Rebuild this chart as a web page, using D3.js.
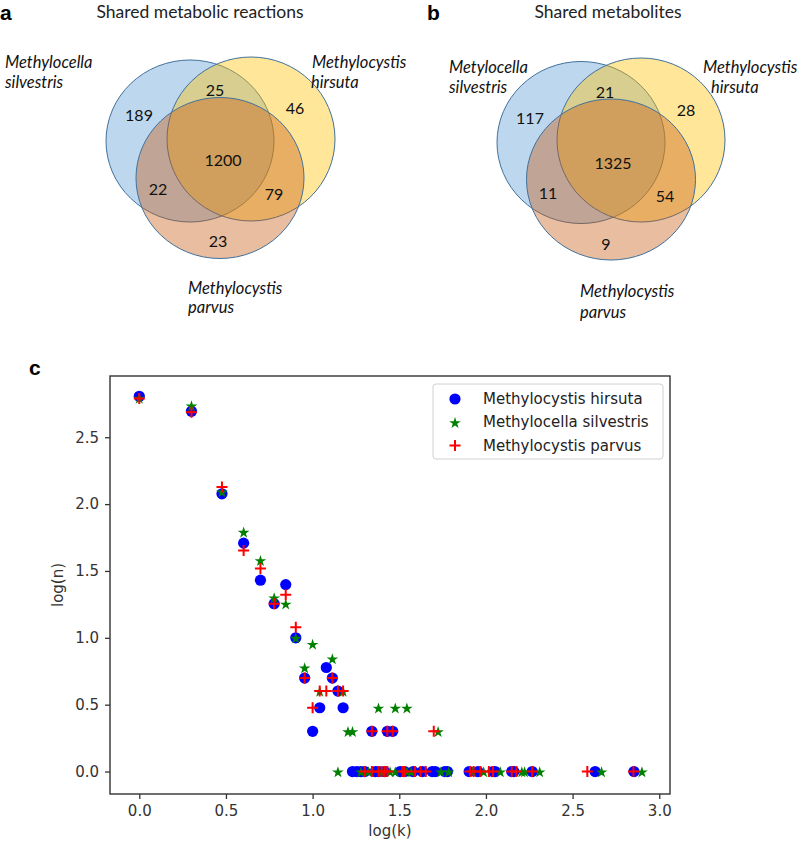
<!DOCTYPE html>
<html><head><meta charset="utf-8">
<script src="https://cdn.jsdelivr.net/npm/d3@7"></script>
<style>body{margin:0;background:#fff}svg{display:block}</style>
</head><body>
<svg id="c" width="797" height="842"></svg>
<script>
// ---------- DATA ----------
const vennSpecies = ["Methylocella silvestris","Methylocystis hirsuta","Methylocystis parvus"];
const vennATitle = "Shared metabolic reactions";
const vennBTitle = "Shared metabolites";
// region order: S only, H only, P only, S∩H, S∩P, H∩P, all
const vennACounts = [189, 46, 23, 25, 22, 79, 1200];
const vennBCounts = [117, 28, 9, 21, 11, 54, 1325];

const seriesNames = ["Methylocystis hirsuta","Methylocella silvestris","Methylocystis parvus"];
const hirsuta = [[0,2.806],[0.301,2.694],[0.477,2.077],[0.602,1.708],[0.699,1.431],[0.778,1.255],[0.845,1.398],[0.903,1.0],[0.954,0.699],[1.0,0.301],[1.041,0.477],[1.079,0.778],[1.114,0.699],[1.146,0.602],[1.176,0.477],[1.342,0.301],[1.431,0.301],[1.462,0.301],
 [1.230,0],[1.255,0],[1.279,0],[1.301,0],[1.362,0],[1.380,0],[1.415,0],[1.505,0],[1.531,0],[1.580,0],[1.633,0],[1.690,0],[1.708,0],[1.763,0],[1.778,0],[1.903,0],[1.954,0],[2.041,0],[2.053,0],[2.149,0],[2.161,0],[2.267,0],[2.630,0],[2.854,0]];
const silvestris = [[0,2.794],[0.301,2.736],[0.477,2.094],[0.602,1.792],[0.699,1.58],[0.778,1.301],[0.845,1.255],[0.903,1.0],[0.954,0.778],[1.0,0.954],[1.041,0.602],[1.114,0.845],[1.176,0.602],[1.204,0.301],[1.230,0.301],[1.380,0.477],[1.477,0.477],[1.544,0.477],[1.724,0.301],
 [1.146,0],[1.279,0],[1.322,0],[1.398,0],[1.447,0],[1.477,0],[1.544,0],[1.568,0],[1.740,0],[1.785,0],[1.924,0],[1.987,0],[2.083,0],[2.207,0],[2.223,0],[2.310,0],[2.667,0],[2.900,0]];
const parvus = [[0,2.79],[0.301,2.686],[0.477,2.127],[0.602,1.653],[0.699,1.519],[0.778,1.255],[0.845,1.322],[0.903,1.079],[0.954,0.699],[1.0,0.477],[1.041,0.602],[1.079,0.602],[1.114,0.699],[1.146,0.602],[1.176,0.602],[1.342,0.301],[1.431,0.301],[1.462,0.301],[1.699,0.301],
 [1.301,0],[1.342,0],[1.380,0],[1.398,0],[1.415,0],[1.431,0],[1.519,0],[1.531,0],[1.591,0],[1.623,0],[1.653,0],[1.908,0],[1.929,0],[1.968,0],[2.017,0],[2.041,0],[2.149,0],[2.176,0],[2.267,0],[2.585,0],[2.851,0]];
const xTicks = [0,0.5,1.0,1.5,2.0,2.5,3.0];
const yTicks = [0,0.5,1.0,1.5,2.0,2.5];

// ---------- DRAW ----------
const svg = d3.select("#c");
const venFont = "Lato, 'Open Sans', sans-serif";

function panelLetter(x, y, t){
  svg.append("text").attr("x",x).attr("y",y).text(t)
    .attr("font-family","Liberation Sans, Arial, sans-serif").attr("font-weight","bold").attr("font-size",21).attr("fill","#000");
}

function venn(cfg){
  const g = svg.append("g");
  const fills = ["#5B9BD5","#FFC000","#C55A11"];
  cfg.circles.forEach((c,i)=>{
    g.append("ellipse").attr("cx",c[0]).attr("cy",c[1]).attr("rx",c[2]).attr("ry",c[3])
      .attr("fill",fills[i]).attr("fill-opacity",0.4)
      .attr("stroke","#41719C").attr("stroke-width",1);
  });
  cfg.counts.forEach((v,i)=>{
    g.append("text").attr("x",cfg.numPos[i][0]).attr("y",cfg.numPos[i][1])
      .attr("text-anchor","middle").attr("dominant-baseline","central")
      .attr("font-family",venFont).attr("font-size",16).attr("fill","#111").text(v);
  });
  g.append("text").attr("x",cfg.titlePos[0]).attr("y",cfg.titlePos[1]).attr("text-anchor","middle")
    .attr("font-family",venFont).attr("font-size",17.5).attr("fill","#222").text(cfg.title);
  cfg.labels.forEach(l=>{
    const t = g.append("text").attr("font-family",venFont).attr("font-style","italic")
      .attr("font-size",16.5).attr("fill","#111");
    l.lines.forEach((ln,j)=>{
      t.append("tspan").attr("x",l.x[j]).attr("y",l.y[j]).text(ln);
    });
  });
}

const spA = vennSpecies.map(s=>s.split(" "));
const spB = [["Metylocella","silvestris"], spA[1], spA[2]];

venn({
  title: vennATitle, titlePos:[200,18], counts: vennACounts,
  circles: [[190,141,84,81],[251,139,84,82],[220,178,84,80.5]],
  numPos: [[139,114],[295,107],[218,240],[215,89],[158,188],[274,193],[223,159]],
  labels: [
    {lines: spA[0], x:[5,5], y:[68,88]},
    {lines: spA[1], x:[312,311], y:[68,88]},
    {lines: spA[2], x:[188,188], y:[294,313]}
  ]
});
venn({
  title: vennBTitle, titlePos:[608,18], counts: vennBCounts,
  circles: [[581,142.5,84,81],[641,140,84,82],[611,179.5,84.5,80.5]],
  numPos: [[530,117],[686,109],[606,243],[605,91],[548,192],[665,195],[613,162]],
  labels: [
    {lines: spB[0], x:[449,449], y:[73,93]},
    {lines: spB[1], x:[703,711], y:[73,93]},
    {lines: spB[2], x:[580,580], y:[297,318]}
  ]
});
panelLetter(0,20,"a");
panelLetter(427,20,"b");
panelLetter(29,375,"c");

// ---------- SCATTER ----------
const L=110, R=670, T=376, B=794;
const x = d3.scaleLinear().domain([-0.169,3.062]).range([L,R]);
const y = d3.scaleLinear().domain([-0.168,2.958]).range([B,T]);
const tickFont = "'DejaVu Sans', sans-serif";
const axColor = "#333";

const xAxis = svg.append("g").attr("transform",`translate(0,${B})`)
  .call(d3.axisBottom(x).tickValues(xTicks).tickFormat(d3.format(".1f")).tickSize(5).tickPadding(6));
const yAxis = svg.append("g").attr("transform",`translate(${L},0)`)
  .call(d3.axisLeft(y).tickValues(yTicks).tickFormat(d3.format(".1f")).tickSize(5).tickPadding(6));
[xAxis,yAxis].forEach(a=>{
  a.select(".domain").remove();
  a.selectAll("line").attr("stroke",axColor).attr("stroke-width",1.3);
  a.selectAll("text").attr("font-family",tickFont).attr("font-size",15).attr("fill",axColor);
});
svg.append("rect").attr("x",L).attr("y",T).attr("width",R-L).attr("height",B-T)
  .attr("fill","none").attr("stroke",axColor).attr("stroke-width",1.4);

svg.append("text").attr("x",(L+R)/2).attr("y",836).attr("text-anchor","middle")
  .attr("font-family",tickFont).attr("font-size",15).attr("fill",axColor).text("log(k)");
svg.append("text").attr("transform",`translate(63,${(T+B)/2}) rotate(-90)`).attr("text-anchor","middle")
  .attr("font-family",tickFont).attr("font-size",15).attr("fill",axColor).text("log(n)");

const star = d3.symbol().type(d3.symbolStar).size(42);
const plusPath = "M-5.5,0H5.5M0,-5.5V5.5";
function drawMarker(sel, kind){
  if(kind===0) sel.append("circle").attr("r",5.6).attr("fill","#0000ff");
  else if(kind===1) sel.append("path").attr("d",star()).attr("fill","#008000").attr("transform","translate(0,0.8)");
  else sel.append("path").attr("d",plusPath).attr("stroke","#ff0000").attr("stroke-width",2).attr("fill","none");
}
const plot = svg.append("g");
[hirsuta, silvestris, parvus].forEach((ser,k)=>{
  plot.selectAll(null).data(ser).enter().append("g")
    .attr("transform",d=>`translate(${x(d[0])},${y(d[1])})`)
    .each(function(){ drawMarker(d3.select(this),k); });
});

// legend
const lg = svg.append("g");
lg.append("rect").attr("x",433).attr("y",384).attr("width",230).attr("height",75).attr("rx",3)
  .attr("fill","#fff").attr("fill-opacity",0.8).attr("stroke","#d0d0d0").attr("stroke-width",1);
seriesNames.forEach((n,i)=>{
  const yy = 399 + i*23.3;
  const m = lg.append("g").attr("transform",`translate(455,${yy})`);
  drawMarker(m,i);
  lg.append("text").attr("x",483).attr("y",yy).attr("dominant-baseline","central")
    .attr("font-family",tickFont).attr("font-size",15).attr("fill","#222").text(n);
});
</script>
</body></html>
